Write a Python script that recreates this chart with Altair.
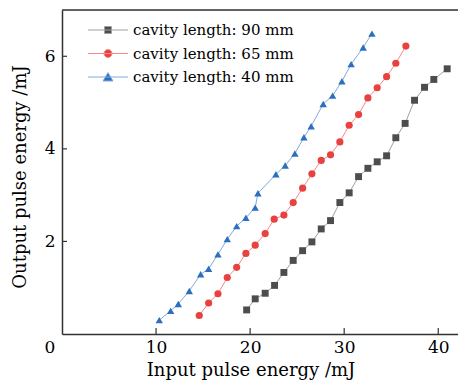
import altair as alt
import pandas as pd

series_labels = ["cavity length: 90 mm", "cavity length: 65 mm", "cavity length: 40 mm"]

x_90 = [19.63, 20.54, 21.60, 22.60, 23.59, 24.58, 25.58, 26.57, 27.56, 28.55, 29.54,
        30.53, 31.53, 32.52, 33.51, 34.51, 35.49, 36.48, 37.48, 38.54, 39.53, 40.95]
y_90 = [0.52, 0.76, 0.88, 1.05, 1.33, 1.59, 1.80, 1.99, 2.27, 2.45, 2.84,
        3.05, 3.40, 3.58, 3.72, 3.85, 4.24, 4.55, 5.05, 5.33, 5.50, 5.73]

x_65 = [14.59, 15.59, 16.58, 17.57, 18.57, 19.55, 20.54, 21.60, 22.56, 23.59, 24.58, 25.58,
        26.57, 27.56, 28.55, 29.54, 30.53, 31.53, 32.52, 33.51, 34.51, 35.49, 36.56]
y_65 = [0.40, 0.67, 0.87, 1.22, 1.44, 1.74, 1.92, 2.17, 2.48, 2.57, 2.84, 3.15,
        3.46, 3.75, 3.87, 4.15, 4.51, 4.74, 5.10, 5.32, 5.56, 5.85, 6.22]

x_40 = [10.34, 11.55, 12.36, 13.53, 14.74, 15.59, 16.58, 17.57, 18.57, 19.55, 20.54, 20.83,
        22.74, 23.73, 24.76, 25.72, 26.49, 27.77, 28.77, 29.76, 30.74, 32.02, 32.95]
y_40 = [0.30, 0.50, 0.65, 0.93, 1.29, 1.41, 1.72, 2.05, 2.33, 2.51, 2.73, 3.04,
        3.45, 3.64, 3.90, 4.25, 4.49, 4.97, 5.15, 5.46, 5.83, 6.19, 6.49]

x_ticks = [10, 20, 30, 40]
y_ticks = [2, 4, 6]
y_top = [7]

marker_colors = ["#4d4d4d", "#e8413f", "#2c6fbe"]
line_colors = ["#a0a0a0", "#f48a8a", "#82aae0"]
shapes = ["square", "circle", "triangle-up"]
marker_sizes = [48, 55, 95]
# legend glyphs: a short line with the marker on it (unit coordinates)
legend_glyphs = [
    "M-5,0H5M-0.875,-0.875H0.875V0.875H-0.875Z",
    "M-5,0H5M-1,0A1,1,0,1,1,1,0A1,1,0,1,1,-1,0Z",
    "M-5,0H5M0,-1.1L1.25,1L-1.25,1Z",
]

FONT = "DejaVu Serif"
AX = "#333333"

rows = []
for lab, xs_, ys_ in zip(series_labels, [x_90, x_65, x_40], [y_90, y_65, y_40]):
    for a, b in zip(xs_, ys_):
        rows.append({"x": a, "y": b, "series": lab, "series_g": lab})
df = pd.DataFrame(rows)

xs = alt.Scale(domain=[0, 42.1], nice=False, zero=False)
ys = alt.Scale(domain=[0, 7], nice=False, zero=False)

base = alt.Chart(df)

x_axis = alt.Axis(
    values=x_ticks, ticks=False, labelPadding=5, grid=False,
    labelFont=FONT, labelFontSize=17, labelColor="black",
    domainColor=AX, domainWidth=1.5,
    title="Input pulse energy /mJ", titleFont=FONT, titleFontSize=18,
    titleFontWeight="normal", titleColor="black",
    titleX=188.5, titleY=41, titleBaseline="alphabetic", titleAlign="center")

y_axis = alt.Axis(
    values=y_ticks, ticks=False, labelPadding=7, grid=False,
    labelFont=FONT, labelFontSize=17, labelColor="black",
    domainColor=AX, domainWidth=1.5,
    title="Output pulse energy /mJ", titleFont=FONT, titleFontSize=18,
    titleFontWeight="normal", titleColor="black",
    titleX=-37, titleY=166.5, titleAngle=270, titleBaseline="alphabetic",
    titleAlign="center")

# inward x ticks: short vertical segments standing on the bottom axis
xt = alt.Chart(pd.DataFrame({"xt": x_ticks})).mark_rule(color=AX, strokeWidth=1.2).encode(
    x=alt.X("xt:Q", scale=xs, axis=x_axis),
    x2="xt:Q",
    y=alt.value(324), y2=alt.value(318),
)

lines = base.mark_line(strokeWidth=1).encode(
    x=alt.X("x:Q", scale=xs),
    y=alt.Y("y:Q", scale=ys, axis=y_axis),
    stroke=alt.Stroke("series:N", scale=alt.Scale(domain=series_labels, range=line_colors),
                      legend=None),
    order=alt.Order("x:Q"),
)

points = base.mark_point(filled=True, opacity=1).encode(
    x=alt.X("x:Q", scale=xs),
    y=alt.Y("y:Q", scale=ys),
    fill=alt.Fill("series:N", scale=alt.Scale(domain=series_labels, range=marker_colors),
                  legend=None),
    shape=alt.Shape("series:N", scale=alt.Scale(domain=series_labels, range=shapes),
                    legend=None),
    size=alt.Size("series:N", scale=alt.Scale(domain=series_labels, range=marker_sizes),
                  legend=None),
)

leg = alt.Legend(title=None, orient="none", legendX=38.5, legendY=12.5, padding=0,
                 symbolSize=64, symbolStrokeWidth=1, symbolOpacity=1,
                 labelFont=FONT, labelFontSize=15, labelColor="black", labelLimit=0,
                 rowPadding=7.5, labelOffset=17.5)

# legend-only layer (no rows pass the filter)
legend_layer = base.transform_filter("false").mark_point(filled=True).encode(
    x=alt.X("x:Q", scale=xs),
    y=alt.Y("y:Q", scale=ys),
    fill=alt.Fill("series_g:N", scale=alt.Scale(domain=series_labels, range=marker_colors),
                  legend=leg),
    stroke=alt.Stroke("series_g:N", scale=alt.Scale(domain=series_labels, range=line_colors),
                      legend=leg),
    shape=alt.Shape("series_g:N", scale=alt.Scale(domain=series_labels, range=legend_glyphs),
                    legend=leg),
)

yt = alt.Chart(pd.DataFrame({"yt": y_ticks})).mark_rule(color=AX, strokeWidth=1.2).encode(
    y=alt.Y("yt:Q", scale=ys),
    x=alt.value(0), x2=alt.value(5),
)

top = alt.Chart(pd.DataFrame({"yy": y_top})).mark_rule(color=AX, strokeWidth=1.5).encode(
    y=alt.Y("yy:Q", scale=ys),
    x=alt.value(0), x2=alt.value(396),
)

origin = alt.Chart(pd.DataFrame({"ox": [0], "oy": [0], "t": ["0"]})).mark_text(
    font=FONT, fontSize=17, color="black", dx=-12, dy=14).encode(
    x=alt.X("ox:Q", scale=xs),
    y=alt.Y("oy:Q", scale=ys),
    text="t:N",
)

chart = alt.layer(lines, points, legend_layer, xt, yt, top, origin).resolve_scale(
    fill="independent", stroke="independent", shape="independent", size="independent"
).resolve_legend(
    fill="independent", stroke="independent", shape="independent", size="independent"
).properties(
    width=396, height=324,
    autosize=alt.AutoSizeParams(type="none"),
    padding={"left": 62, "top": 10, "right": 0, "bottom": 47},
).configure_view(stroke=None).configure(background="white")

chart.save("out.html", embed_options={"renderer": "svg", "actions": False})
